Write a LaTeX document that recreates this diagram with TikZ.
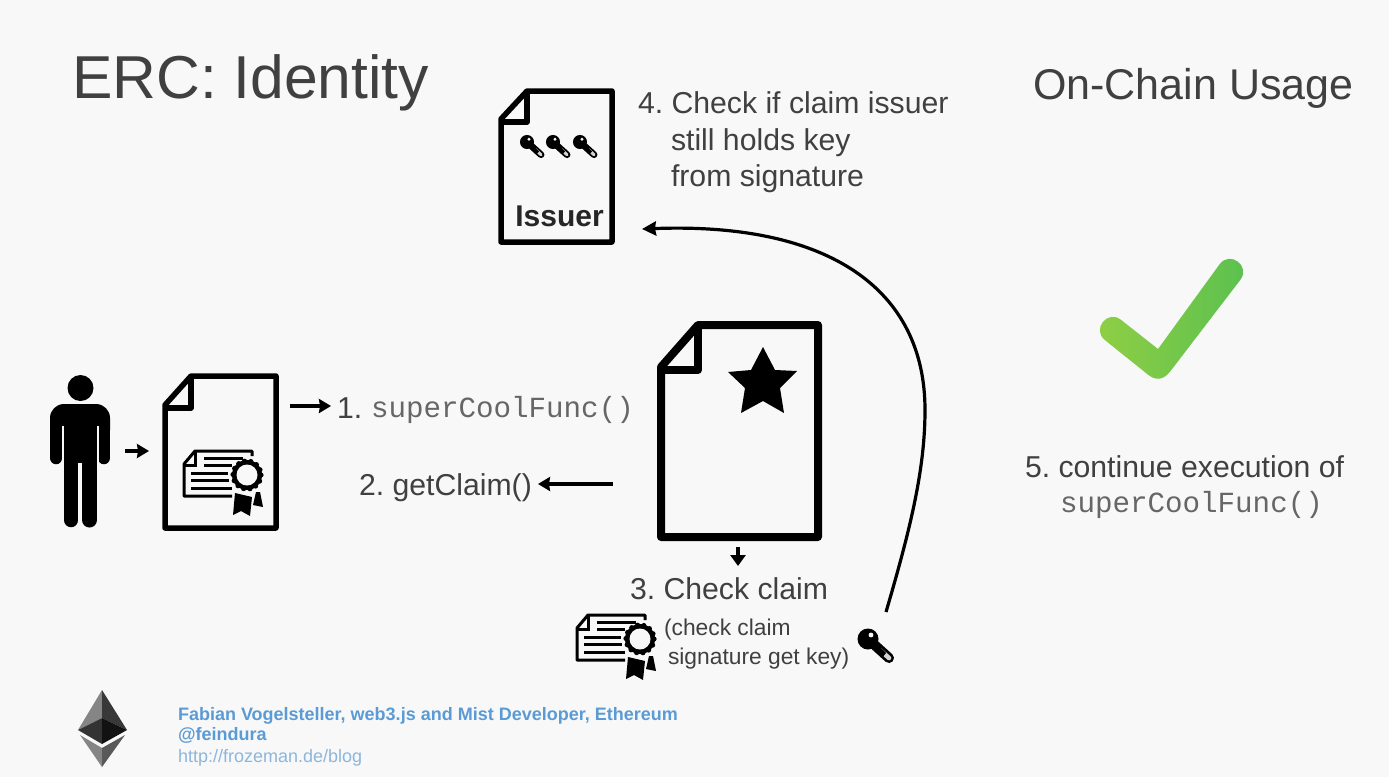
\documentclass[tikz,border=0pt]{standalone}
\usepackage{fontspec}
\setmainfont{Liberation Sans}
\setmonofont{Liberation Mono}
\usetikzlibrary{arrows.meta}
\definecolor{bgc}{HTML}{F8F8F8}
\definecolor{txt}{HTML}{404040}
\definecolor{monoc}{HTML}{666666}
\definecolor{blueb}{HTML}{5B9BD5}
\definecolor{bluel}{HTML}{8DB6DC}
\definecolor{checkl}{RGB}{145,207,68}
\definecolor{checkr}{RGB}{90,192,80}
\tikzset{
  lab/.style={anchor=base west,inner sep=0pt,outer sep=0pt,text=txt,font=\fontsize{30.2}{30.2}\selectfont},
  codelab/.style={anchor=base west,inner sep=0pt,outer sep=0pt,text=monoc,font=\ttfamily\fontsize{29.2}{29.2}\selectfont},
  smalllab/.style={anchor=base west,inner sep=0pt,outer sep=0pt,text=txt,font=\fontsize{22.8}{22.8}\selectfont},
  foot/.style={anchor=base west,inner sep=0pt,outer sep=0pt,font=\fontsize{18}{18}\selectfont},
  footb/.style={anchor=base west,inner sep=0pt,outer sep=0pt,text=blueb,font=\bfseries\fontsize{18}{18}\selectfont},
  flow/.style={draw=black,line width=3.4pt,-{Stealth[length=12pt,width=14pt,inset=1pt]}},
  shortflow/.style={draw=black,line width=4pt,-{Stealth[length=11pt,width=15pt,inset=0pt]}},
  thinflow/.style={draw=black,line width=3.2pt,-{Stealth[length=14pt,width=14pt,inset=1pt]}},
  docbox/.style={inner sep=0pt,outer sep=0pt,rectangle},
}
\newcommand{\docicon}[7]{% x0 y0 x1 y1 foldx foldy width
  \draw[line width=#7pt,line join=round,fill=none]
    (#1,#6-3) -- (#5,#2) -- (#3,#2) -- (#3,#4) -- (#1,#4) -- cycle;
  \draw[line width=#7pt,line join=round] (#5,#2) -- (#5,#6) -- (#1,#6);
}
\newcommand{\keyicon}[3]{% x y scale
  \begin{scope}[shift={(#1,#2)},scale=#3]
    \draw[line width=#3*10pt,line cap=round,black] (0,0) -- (21,19);
    \draw[line width=#3*4.6pt,line cap=round,bgc!85!black] (12,11) -- (21,19);
    \fill[black] (5,10) -- (10,6) -- (18,14) -- (14,19) -- cycle;
    \fill[black] (0,0) circle (10.5);
    \fill[bgc] (3,-4) circle (2.4);
  \end{scope}
}
\newcommand{\certicon}[2]{% shift
  \begin{scope}[shift={(#1,#2)}]
    \draw[line width=3pt,line join=round] (252,456) -- (252,451) -- (195,451) -- (184,464) -- (184,496) -- (232,496);
    \draw[line width=3pt] (195,451) -- (195,465) -- (184,465);
    \draw[line width=3pt] (204,458) -- (243,458) (204,465) -- (232,465) (191,473) -- (228,473) (191,480) -- (229,480) (191,488) -- (232,488);
    \fill[black] (235,493) -- (252,497) -- (250,516) -- (241,511) -- (233,515) -- cycle;
    \fill[black] (256,492) -- (260,492) -- (263,507) -- (253,505) -- cycle;
    \foreach \a in {0,26,...,340}{\fill[black] (247,475)+(\a:14) circle (2.6);}
    \fill[black] (247,475) circle (15);
    \fill[bgc] (247,475) circle (10.5);
  \end{scope}
}
\begin{document}
\frenchspacing
\begin{tikzpicture}[x=1pt,y=-1pt]
\useasboundingbox (0,0) rectangle (1389,777);
\fill[bgc] (0,0) rectangle (1389,777);

% titles
\node[anchor=base west,inner sep=0pt,text=txt,font=\fontsize{60.6}{60.6}\selectfont] (title) at (72,98) {ERC: Identity};
\node[anchor=base west,inner sep=0pt,text=txt,font=\fontsize{43}{43}\selectfont] (usage) at (1033,99) {On-Chain Usage};

% issuer document
\node[docbox,minimum width=117pt,minimum height=157pt] (issuer) at (556.5,166.5) {};
\docicon{501}{91}{612}{242}{527}{122}{5.5}
\keyicon{527}{142}{0.67}
\keyicon{553}{142}{0.67}
\keyicon{580}{142}{0.67}
\node[anchor=base,inner sep=0pt,font=\bfseries\fontsize{30}{30}\selectfont,text=black!85] (issuerlabel) at (559.5,226) {Issuer};

\node[lab] (s4a) at (638,113) {4. Check if claim issuer};
\node[lab] (s4b) at (671,150) {still holds key};
\node[lab] (s4c) at (671,186) {from signature};

% person
\node[docbox,minimum width=60pt,minimum height=150pt] (person) at (80,452) {};
\fill[black] (80.5,388) circle (13);
\fill[black,rounded corners=14pt] (50,404) rectangle (110,444);
\fill[black] (64,420) rectangle (97,463);
\draw[black,line width=12.5pt,line cap=round] (56.2,425) -- (56.2,458);
\draw[black,line width=12.5pt,line cap=round] (103.8,425) -- (103.8,458);
\draw[black,line width=14.5pt,line cap=round] (71.2,440) -- (71.2,520);
\draw[black,line width=15pt,line cap=round] (89.5,440) -- (89.5,520);
\draw[bgc,line width=1.8pt] (63.2,426) -- (63.2,470) (97.8,426) -- (97.8,470);

% contract document with claim
\node[docbox,minimum width=117pt,minimum height=158pt] (contract) at (220.5,452) {};
\docicon{165}{376}{276}{528}{191}{408}{5.5}
\certicon{0}{0}

% central document
\node[docbox,minimum width=165pt,minimum height=220pt] (target) at (739.5,431) {};
\docicon{661}{325}{818}{537}{698}{370}{8}
\fill[black] (763,347) -- (775,370) -- (797,371) -- (780,388) -- (784,413) -- (763,401) -- (741,413) -- (745,388) -- (728,372) -- (751,370) -- cycle;

% labels
\node[lab] (s1) at (337,418) {1.};
\node[codelab] (s1c) at (371,417) {superCoolFunc()};
\node[lab] (s2) at (359,495) {2. getClaim()};
\node[lab] (s3) at (630,599) {3. Check claim};
\node[smalllab] (s3a) at (664,635) {(check claim};
\node[smalllab] (s3b) at (668,664) {signature get key)};
\certicon{393}{164}
\node[docbox,minimum width=36pt,minimum height=36pt] (bigkey) at (876,647) {};
\keyicon{868}{639}{1}

% connectors
\coordinate (a0s) at (125,451); \coordinate (a0e) at (149,451);
\coordinate (a1s) at (290,406); \coordinate (a1e) at (331,406);
\coordinate (a2s) at (613,484); \coordinate (a2e) at (538,484);
\coordinate (a3s) at (738,547); \coordinate (a3e) at (738,566);
\coordinate (a4s) at (886,612); \coordinate (a4m) at (925,410); \coordinate (a4e) at (642,229);
\draw[flow] (a0s) -- (a0e);
\draw[flow] (a1s) -- (a1e);
\draw[flow] (a2s) -- (a2e);
\draw[shortflow] (a3s) -- (a3e);
\draw[thinflow] (a4s) .. controls (910,530) and (925,470) .. (a4m) .. controls (925,290) and (830,222) .. (a4e);

% check mark
\shade[left color=checkl,right color=checkr]
  (1121.1,319.9) -- (1158,349) -- (1219.7,264.1)
  .. controls (1230.2,250.3) and (1250.8,266.1) .. (1240.3,279.9)
  -- (1170.4,371.2) .. controls (1163.7,379.9) and (1156.1,381.2) .. (1147.8,374.5)
  -- (1104.9,340.1) .. controls (1091.4,329.3) and (1107.6,309.1) .. cycle;

\node[lab] (s5) at (1025,477) {5. continue execution of};
\node[codelab] (s5c) at (1060,512) {superCoolFunc()};

% ethereum logo
\fill[black!48] (102,690) -- (78,730) -- (102,718) -- cycle;
\fill[black!78] (102,690) -- (127,730) -- (102,718) -- cycle;
\fill[black!80] (78,730) -- (102,718) -- (102,744) -- cycle;
\fill[black!93] (127,730) -- (102,718) -- (102,744) -- cycle;
\fill[black!48] (80,735) -- (102,748) -- (102,767) -- cycle;
\fill[black!65] (125,735) -- (102,748) -- (102,767) -- cycle;

% footer
\node[footb] (f1) at (178,720) {Fabian Vogelsteller, web3.js and Mist Developer, Ethereum};
\node[footb] (f2) at (178,740) {@feindura};
\node[foot,text=bluel] (f3) at (178,762) {http://frozeman.de/blog};
\end{tikzpicture}
\end{document}
